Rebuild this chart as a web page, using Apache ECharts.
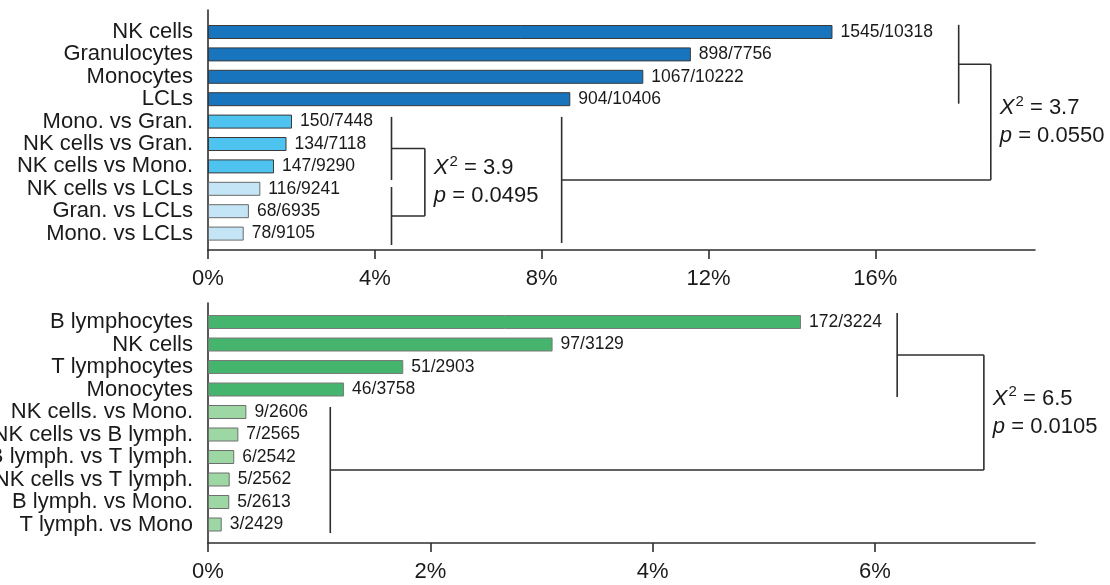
<!DOCTYPE html>
<html>
<head>
<meta charset="utf-8">
<script src="https://cdn.jsdelivr.net/npm/echarts@6/dist/echarts.min.js"></script>
<style>
  html, body { margin: 0; padding: 0; background: #ffffff; }
  #chart { width: 1110px; height: 585px; }
</style>
</head>
<body>
<div id="chart"></div>
<script>
// ---- Upper panel: blue groups ----
const topCategories = ['NK cells', 'Granulocytes', 'Monocytes', 'LCLs', 'Mono. vs Gran.',
  'NK cells vs Gran.', 'NK cells vs Mono.', 'NK cells vs LCLs', 'Gran. vs LCLs', 'Mono. vs LCLs'];
const topHits   = [1545, 898, 1067, 904, 150, 134, 147, 116, 68, 78];
const topTotals = [10318, 7756, 10222, 10406, 7448, 7118, 9290, 9241, 6935, 9105];
const topShades = ['dark', 'dark', 'dark', 'dark', 'mid', 'mid', 'mid', 'light', 'light', 'light'];
const topTickValues = [0, 4, 8, 12, 16];
const topAxisMax = 19.83;

// ---- Lower panel: green groups ----
const bottomCategories = ['B lymphocytes', 'NK cells', 'T lymphocytes', 'Monocytes', 'NK cells. vs Mono.',
  'NK cells vs B lymph.', 'B lymph. vs T lymph.', 'NK cells vs T lymph.', 'B lymph. vs Mono.', 'T lymph. vs Mono'];
const bottomHits   = [172, 97, 51, 46, 9, 7, 6, 5, 5, 3];
const bottomTotals = [3224, 3129, 2903, 3758, 2606, 2565, 2542, 2562, 2613, 2429];
const bottomShades = ['dark', 'dark', 'dark', 'dark', 'light', 'light', 'light', 'light', 'light', 'light'];
const bottomTickValues = [0, 2, 4, 6];
const bottomAxisMax = 7.44;

// ---- Chi-square comparisons (legs: x in %, row span in category units) ----
const topTests = [
  { chi: '3.9', p: '0.0495', joinX: 5.20,
    legs: [{ x: 4.40, from: 3.79, to: 6.61 }, { x: 4.40, from: 6.92, to: 9.51 }] },
  { chi: '3.7', p: '0.0550', joinX: 18.77,
    legs: [{ x: 18.0, from: -0.32, to: 3.2 }, { x: 8.48, from: 3.79, to: 9.42 }] }
];
const bottomTests = [
  { chi: '6.5', p: '0.0105', joinX: 6.98,
    legs: [{ x: 6.2, from: -0.4, to: 3.33 }, { x: 1.10, from: 3.78, to: 9.38 }] }
];

const FONT = "'Liberation Sans', Arial, Helvetica, sans-serif";
const INK = '#1a1a1a';
const LINE = '#2e2e2e';
const palette = {
  blue:  { dark: ['#1874bd', '#3a3a3a'], mid: ['#4ec3ef', '#3a3a3a'], light: ['#c4e5f6', '#6a6a6a'] },
  green: { dark: ['#45b46c', '#7a7a7a'], light: ['#9dd7a4', '#6e6e6e'] }
};

function barData(hits, totals, shades, scheme) {
  return hits.map((h, i) => ({
    value: h / totals[i] * 100,
    itemStyle: { color: palette[scheme][shades[i]][0], borderColor: palette[scheme][shades[i]][1], borderWidth: 1 }
  }));
}

function barSeries(xi, hits, totals, shades, scheme) {
  return {
    type: 'bar', xAxisIndex: xi, yAxisIndex: xi, barWidth: 14,
    data: barData(hits, totals, shades, scheme),
    label: {
      show: true, position: 'right', distance: 8,
      fontFamily: FONT, fontSize: 17.5, color: INK,
      formatter: p => hits[p.dataIndex] + '/' + totals[p.dataIndex]
    },
    silent: true, animation: false
  };
}

function barsX(gi, max) {
  return { type: 'value', gridIndex: gi, min: 0, max: max, show: false };
}
function frameX(gi, max, ticks) {
  return {
    type: 'value', gridIndex: gi, min: 0, max: max,
    axisLine: { show: true, onZero: false, lineStyle: { color: LINE, width: 1.6 } },
    axisTick: { show: true, length: 9, customValues: ticks, lineStyle: { color: LINE, width: 1.6 } },
    axisLabel: { customValues: ticks, formatter: '{value}%', fontFamily: FONT, fontSize: 22, color: INK, margin: 18 },
    splitLine: { show: false }
  };
}
function barsY(gi, cats) {
  return {
    type: 'category', gridIndex: gi, data: cats, inverse: true,
    axisLine: { show: false }, axisTick: { show: false },
    axisLabel: { interval: 0, fontFamily: FONT, fontSize: 22, color: INK, margin: 15, hideOverlap: false }
  };
}
function frameY(gi) {
  return {
    type: 'value', gridIndex: gi, min: 0, max: 1,
    axisLine: { show: true, lineStyle: { color: LINE, width: 1.6 } },
    axisTick: { show: false }, axisLabel: { show: false }, splitLine: { show: false }
  };
}

const gridBase = { left: 208, right: 75, containLabel: false, outerBoundsMode: 'none' };

const chart = echarts.init(document.getElementById('chart'), null, { renderer: 'canvas' });
chart.setOption({
  backgroundColor: '#ffffff',
  animation: false,
  grid: [
    Object.assign({ top: 20.8, height: 224 }, gridBase),
    Object.assign({ top: 10, height: 240 }, gridBase),
    Object.assign({ top: 310.75, height: 225 }, gridBase),
    Object.assign({ top: 303, height: 240 }, gridBase)
  ],
  xAxis: [barsX(0, topAxisMax), frameX(1, topAxisMax, topTickValues),
          barsX(2, bottomAxisMax), frameX(3, bottomAxisMax, bottomTickValues)],
  yAxis: [barsY(0, topCategories), frameY(1), barsY(2, bottomCategories), frameY(3)],
  series: [
    barSeries(0, topHits, topTotals, topShades, 'blue'),
    barSeries(2, bottomHits, bottomTotals, bottomShades, 'green')
  ]
});

// Brackets are placed through the bar grids' own axes.
function bracketGraphics(gridIndex, tests) {
  const px = v => chart.convertToPixel({ gridIndex }, [v, 0])[0];
  const r0 = chart.convertToPixel({ gridIndex }, [0, 0])[1];
  const r1 = chart.convertToPixel({ gridIndex }, [0, 1])[1];
  const py = r => r0 + (r1 - r0) * r;
  const lineStyle = { stroke: LINE, lineWidth: 1.6 };
  const out = [];
  const seg = (x1, y1, x2, y2) => out.push({ type: 'line', silent: true,
    shape: { x1, y1, x2, y2 }, style: lineStyle });
  tests.forEach(t => {
    const jx = px(t.joinX);
    const mids = t.legs.map(l => {
      const x = px(l.x), ya = py(l.from), yb = py(l.to), ym = (ya + yb) / 2;
      seg(x, ya, x, yb);
      seg(x, ym, jx, ym);
      return ym;
    });
    seg(jx, mids[0], jx, mids[1]);
    out.push({
      type: 'text', silent: true,
      x: jx + 9, y: (mids[0] + mids[1]) / 2,
      style: {
        text: '{chi|Χ}{sup|2} = ' + t.chi + '\n{it|p} = ' + t.p,
        fontFamily: FONT, fontSize: 22, fill: INK, lineHeight: 28,
        align: 'left', verticalAlign: 'middle',
        rich: {
          chi: { fontFamily: FONT, fontSize: 22, fontStyle: 'italic', fill: INK, lineHeight: 28 },
          sup: { fontFamily: FONT, fontSize: 15, fill: INK, verticalAlign: 'top', lineHeight: 28, padding: [0, 0, 0, 1] },
          it: { fontFamily: FONT, fontSize: 22, fontStyle: 'italic', fill: INK, lineHeight: 28 }
        }
      }
    });
  });
  return out;
}

chart.setOption({
  graphic: bracketGraphics(0, topTests).concat(bracketGraphics(2, bottomTests))
});
</script>
</body>
</html>
